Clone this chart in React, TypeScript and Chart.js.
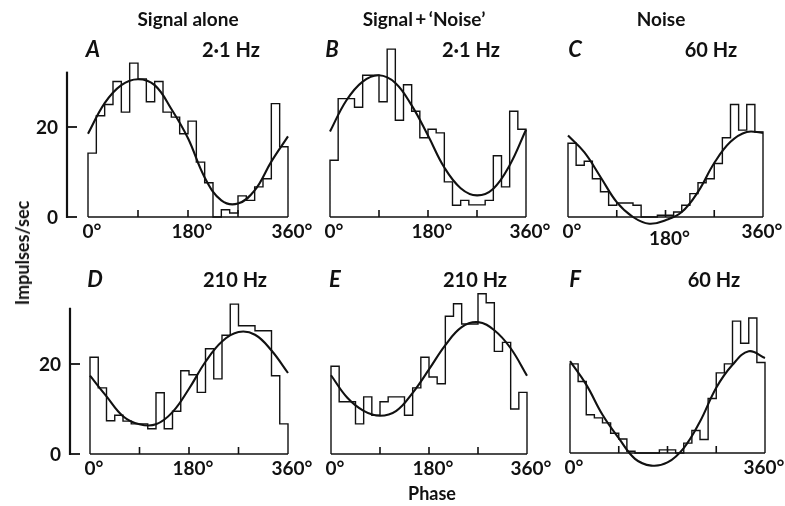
import React, { useEffect, useRef } from "react";
import { Chart, registerables } from "chart.js";

Chart.register(...registerables);

// ---------------- data ----------------
const binEdges = [0, 15, 30, 45, 60, 75, 90, 105, 120, 135, 150, 165, 180, 195, 210, 225, 240, 255, 270, 285, 300, 315, 330, 345, 360];
const fitPhases = [0, 30, 60, 90, 120, 150, 180, 210, 240, 270, 300, 330, 360];
const phaseTickLabels = [0, 180, 360];
const phaseMinorTicks = [90, 180, 270];
const rateTicks = [0, 20];

const columnTitles = ["Signal alone", "Signal\u2009+\u2009\u2018Noise\u2019", "Noise"];
const panelLetters = ["A", "B", "C", "D", "E", "F"];
const freqLabels = ["2\u00b71 Hz", "2\u00b71 Hz", "60 Hz", "210 Hz", "210 Hz", "60 Hz"];
const yTitle = "Impulses/sec";
const xTitle = "Phase";

const histA = [14.2, 22.5, 25.0, 30.1, 23.3, 34.2, 30.7, 25.6, 30.1, 23.3, 22.2, 18.5, 21.3, 12.2, 7.6, 0, 1.6, 0.9, 4.7, 3.7, 6.7, 8.5, 25.2, 15.6];
const fitA = [18.5, 25.3, 29.3, 30.6, 29.3, 24.0, 17.5, 8.8, 3.7, 3.0, 5.9, 12.3, 17.9];

const histB = [12.6, 26.3, 26.3, 24.4, 31.5, 31.5, 25.6, 37.3, 21.5, 29.4, 23.5, 17.6, 19.5, 18.7, 7.8, 2.6, 3.7, 2.7, 2.7, 3.7, 13.6, 6.7, 23.5, 19.5];
const fitB = [19.0, 25.9, 30.1, 31.5, 29.8, 24.8, 18.1, 11.0, 6.4, 4.8, 6.3, 11.5, 19.4];

const histC = [16.4, 11.5, 12.4, 8.5, 5.6, 2.6, 3.1, 3.1, 2.6, 0, 0, 0.4, 0.4, 1.1, 2.6, 5.2, 7.6, 8.5, 11.9, 17.6, 25.0, 19.3, 25.0, 18.9];
const fitC = [18.1, 14.4, 8.9, 3.3, 0.0, -1.5, -0.7, 1.1, 5.6, 12.0, 16.7, 18.9, 18.7];

const histD = [21.5, 14.7, 7.4, 8.6, 7.3, 6.7, 6.7, 5.6, 13.6, 5.6, 9.5, 18.5, 17.6, 13.7, 23.4, 16.7, 26.4, 33.3, 28.5, 28.5, 27.4, 27.4, 17.4, 6.7];
const fitD = [17.4, 12.8, 8.4, 6.6, 6.6, 9.3, 14.5, 20.5, 25.0, 27.1, 26.5, 23.0, 18.0];

const histE = [19.5, 11.6, 11.6, 6.7, 12.7, 8.6, 11.6, 12.7, 12.7, 8.6, 14.7, 21.5, 17.1, 15.6, 30.6, 33.4, 28.9, 28.9, 35.6, 33.6, 22.8, 24.8, 10.0, 13.7];
const fitE = [17.5, 12.5, 9.6, 8.5, 9.6, 13.6, 18.8, 24.2, 28.2, 29.3, 27.5, 23.5, 17.4];

const histF = [19.8, 15.9, 8.5, 7.8, 6.7, 4.4, 3.1, 0.4, 0, 0, 0, 0.7, 0.7, 0, 2.2, 5.0, 3.0, 12.1, 17.8, 19.8, 29.3, 24.4, 30.0, 20.1];
const fitF = [20.4, 15.2, 8.5, 3.3, -1.3, -2.8, -2.1, 1.1, 7.0, 14.5, 19.6, 22.6, 21.1];

// ---------------- layout / style ----------------
const INK = "#111";
const FONT = "'Lato', 'Open Sans', 'DejaVu Sans', sans-serif";
const Y_MIN = -6;
const Y_MAX = 40;
const PX_PER_UNIT = 4.5;
const PAD_L = 62;
const PAD_R = 44;
const PAD_T = 10;
const PAD_B = 34;

type PanelSpec = {
  hist: number[];
  fit: number[];
  x0: number;
  x1: number;
  base: number;
  yAxis: boolean;
  axisGap: number;
  axisTop: number;
  labels: number[];
  midLabelDrop: number;
  lastLabelWhole: boolean;
};

const panels: PanelSpec[] = [
  { hist: histA, fit: fitA, x0: 88, x1: 288, base: 217, yAxis: true, axisGap: 21, axisTop: 32.3, labels: phaseTickLabels, midLabelDrop: 0, lastLabelWhole: false },
  { hist: histB, fit: fitB, x0: 330, x1: 526, base: 217, yAxis: false, axisGap: 0, axisTop: 0, labels: phaseTickLabels, midLabelDrop: 0, lastLabelWhole: false },
  { hist: histC, fit: fitC, x0: 568, x1: 763, base: 217, yAxis: false, axisGap: 0, axisTop: 0, labels: phaseTickLabels, midLabelDrop: 7, lastLabelWhole: true },
  { hist: histD, fit: fitD, x0: 90, x1: 288, base: 454, yAxis: true, axisGap: 20, axisTop: 32.5, labels: phaseTickLabels, midLabelDrop: 0, lastLabelWhole: false },
  { hist: histE, fit: fitE, x0: 331, x1: 527, base: 454, yAxis: false, axisGap: 0, axisTop: 0, labels: phaseTickLabels, midLabelDrop: 0, lastLabelWhole: false },
  { hist: histF, fit: fitF, x0: 570, x1: 765, base: 453, yAxis: false, axisGap: 0, axisTop: 0, labels: [phaseTickLabels[0], phaseTickLabels[2]], midLabelDrop: 0, lastLabelWhole: true },
];

const letterPos = [
  [93, 49], [332, 49], [575, 49],
  [95, 279], [335, 279], [575, 279],
];
const freqPos = [
  [231, 49], [471, 49], [711, 49],
  [235, 279], [475, 279], [714, 279],
];
const titlePos = [[188, 18], [424, 18], [661, 18]];

const panelDecor = {
  id: "panelDecor",
  afterDatasetsDraw(chart: any, _args: any, opts: any) {
    const ctx: CanvasRenderingContext2D = chart.ctx;
    const xs = chart.scales.x;
    const ys = chart.scales.y;
    const yb = ys.getPixelForValue(0);
    ctx.save();
    ctx.strokeStyle = INK;
    ctx.fillStyle = INK;
    ctx.lineWidth = 1.6;
    for (const t of phaseMinorTicks) {
      const px = xs.getPixelForValue(t);
      ctx.beginPath();
      ctx.moveTo(px, yb);
      ctx.lineTo(px, yb - 7);
      ctx.stroke();
    }
    ctx.font = `700 19px ${FONT}`;
    ctx.textBaseline = "middle";
    ctx.textAlign = "left";
    const labels = opts.labels as number[];
    labels.forEach((t, k) => {
      const num = String(t);
      const full = num + "\u00b0";
      const px = xs.getPixelForValue(t);
      const whole = opts.lastLabelWhole && k === labels.length - 1;
      const wRef = ctx.measureText(whole ? full : num).width;
      const dy = t === 180 ? opts.midLabelDrop : 0;
      ctx.fillText(full, px - wRef / 2 - (whole ? 1 : 0), yb + 15 + dy);
    });
    if (opts.yAxis) {
      const ax = xs.left - opts.axisGap;
      const yTop = ys.getPixelForValue(opts.axisTop);
      ctx.lineWidth = 2.2;
      ctx.beginPath();
      ctx.moveTo(ax, yTop);
      ctx.lineTo(ax, yb + 1);
      ctx.stroke();
      ctx.lineWidth = 1.8;
      for (const v of rateTicks) {
        const py = ys.getPixelForValue(v);
        ctx.beginPath();
        ctx.moveTo(ax, py);
        ctx.lineTo(ax + 10, py);
        ctx.stroke();
      }
      ctx.textAlign = "right";
      for (const v of rateTicks) {
        ctx.fillText(String(v), ax - 9, ys.getPixelForValue(v) + 1);
      }
    }
    ctx.restore();
  },
};

function Panel({ spec }: { spec: PanelSpec }) {
  const ref = useRef<HTMLCanvasElement>(null);
  const areaH = (Y_MAX - Y_MIN) * PX_PER_UNIT;
  const w = spec.x1 - spec.x0 + PAD_L + PAD_R;
  const h = areaH + PAD_T + PAD_B;
  const left = spec.x0 - PAD_L;
  const top = spec.base - Y_MAX * PX_PER_UNIT - PAD_T;

  useEffect(() => {
    const n = spec.hist.length;
    const histPts = [
      { x: binEdges[0], y: 0 },
      ...spec.hist.map((v, i) => ({ x: binEdges[i], y: v })),
      { x: binEdges[n], y: spec.hist[n - 1] },
      { x: binEdges[n], y: 0 },
    ];
    const chart = new Chart(ref.current as HTMLCanvasElement, {
      type: "line",
      data: {
        datasets: [
          { data: histPts, stepped: "before", borderColor: INK, borderWidth: 1.4, pointRadius: 0, fill: false, clip: false } as any,
          { data: [{ x: binEdges[0], y: 0 }, { x: binEdges[n], y: 0 }], borderColor: INK, borderWidth: 1.7, pointRadius: 0, fill: false, clip: false } as any,
          { data: fitPhases.map((p, i) => ({ x: p, y: spec.fit[i] })), borderColor: INK, borderWidth: 2.1, pointRadius: 0, tension: 0.4, fill: false, clip: false } as any,
        ],
      },
      options: {
        animation: false,
        responsive: false,
        events: [],
        layout: { padding: { left: PAD_L, right: PAD_R, top: PAD_T, bottom: PAD_B } },
        scales: {
          x: { type: "linear", min: 0, max: 360, display: false },
          y: { type: "linear", min: Y_MIN, max: Y_MAX, display: false },
        },
        plugins: {
          legend: { display: false },
          tooltip: { enabled: false },
          panelDecor: {
            labels: spec.labels,
            midLabelDrop: spec.midLabelDrop,
            lastLabelWhole: spec.lastLabelWhole,
            yAxis: spec.yAxis,
            axisGap: spec.axisGap,
            axisTop: spec.axisTop,
          },
        } as any,
      },
      plugins: [panelDecor as any],
    });
    return () => chart.destroy();
  }, []);

  return (
    <canvas
      ref={ref}
      width={w}
      height={h}
      style={{ position: "absolute", left, top, width: w, height: h }}
    />
  );
}

const textBase: React.CSSProperties = {
  position: "absolute",
  transform: "translate(-50%, -50%)",
  whiteSpace: "nowrap",
  fontFamily: FONT,
  fontWeight: 700,
  color: INK,
  lineHeight: 1,
};

export default function App() {
  return (
    <div
      style={{
        position: "absolute",
        left: 0,
        top: 0,
        width: 785,
        height: 506,
        background: "#fff",
        overflow: "hidden",
      }}
    >
      {panels.map((p, i) => (
        <Panel key={i} spec={p} />
      ))}
      {columnTitles.map((t, i) => (
        <div key={"t" + i} style={{ ...textBase, left: titlePos[i][0], top: titlePos[i][1], fontSize: 19 }}>
          {t}
        </div>
      ))}
      {panelLetters.map((t, i) => (
        <div key={"l" + i} style={{ ...textBase, left: letterPos[i][0], top: letterPos[i][1], fontSize: 22, fontStyle: "italic" }}>
          {t}
        </div>
      ))}
      {freqLabels.map((t, i) => (
        <div key={"f" + i} style={{ ...textBase, left: freqPos[i][0], top: freqPos[i][1], fontSize: 20 }}>
          {t}
        </div>
      ))}
      <div style={{ ...textBase, left: 22, top: 253, fontSize: 18, transform: "translate(-50%, -50%) rotate(-90deg)" }}>
        {yTitle}
      </div>
      <div style={{ ...textBase, left: 432, top: 493, fontSize: 18 }}>{xTitle}</div>
    </div>
  );
}
